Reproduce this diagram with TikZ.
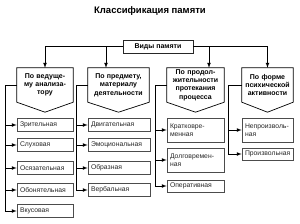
\documentclass[tikz,border=0pt]{standalone}
\usepackage{fontspec}
\setmainfont{Liberation Sans}
\usepackage{tikz}
\usetikzlibrary{arrows}

\begin{document}
\begin{tikzpicture}[x=1pt, y=-1pt, >=latex,
        vid/.style = {draw=black!85, line width=0.7pt, minimum width=70pt, minimum height=13pt, inner sep=1pt, font=\fontsize{7}{8}\selectfont\bfseries},
        hd/.style = {inner xsep=2pt, inner ysep=0pt, minimum height=34pt, align=center, font=\fontsize{7}{8.3}\selectfont\bfseries},
        lf/.style = {draw=black!70, line width=0.6pt, inner xsep=3pt, inner ysep=1pt, align=left, font=\fontsize{6.8}{8}\selectfont, text=black!85},
        ln/.style = {line width=0.7pt}]
    \useasboundingbox (0,0) rectangle (300,223);
    \def\ra{125} \def\rb{145} \def\rc{168} \def\rd{190} \def\re{211}

    \node[font=\fontsize{9.5}{11}\selectfont\bfseries] (titl) at (150,11) {Классификация памяти};
    \node[vid] (vp) at (158,46.5) {Виды памяти};

    % headers
    \node[hd, text width=52pt] (h1) at (45,85) {По ведуще-\\му анализа-\\тору};
    \node[hd, text width=57pt] (h2) at (118.5,85) {По предмету,\\материалу\\деятельности};
    \node[hd, text width=53pt] (h3) at (195.5,85) {По продол-\\жительности\\протекания\\процесса};
    \node[hd, text width=47pt] (h4) at (267.5,85) {По форме\\психической\\активности};
    \foreach \h in {h1,h2,h3,h4}
        \draw[ln] (\h.north west) -- (\h.north east) -- (\h.south east) -- ([yshift=-10pt]\h.south) -- (\h.south west) -- cycle;

    % leaves
    \node[lf, text width=50pt, minimum height=13pt] (l11) at (45,\ra) {Зрительная};
    \node[lf, text width=50pt, minimum height=13pt] (l12) at (45,\rb) {Слуховая};
    \node[lf, text width=50pt, minimum height=13pt] (l13) at (45,\rc) {Осязательная};
    \node[lf, text width=50pt, minimum height=13pt] (l14) at (45,\rd) {Обонятельная};
    \node[lf, text width=50pt, minimum height=13pt] (l15) at (45,\re) {Вкусовая};

    \node[lf, text width=56pt, minimum height=13pt] (l21) at (119,\ra) {Двигательная};
    \node[lf, text width=56pt, minimum height=13pt] (l22) at (119,\rb) {Эмоциональная};
    \node[lf, text width=56pt, minimum height=13pt] (l23) at (119,\rc) {Образная};
    \node[lf, text width=56pt, minimum height=13pt] (l24) at (119,\rd) {Вербальная};

    \node[lf, text width=51pt, minimum height=24pt] (l31) at (195.5,130) {Кратковре-\\менная};
    \node[lf, text width=51pt, minimum height=24pt] (l32) at (195.5,160) {Долговремен-\\ная};
    \node[lf, text width=51pt, minimum height=12pt] (l33) at (195.5,186) {Оперативная};

    \node[lf, text width=45pt, minimum height=24pt] (l41) at (267.5,130) {Непроизволь-\\ная};
    \node[lf, text width=45pt, minimum height=12pt] (l42) at (267.5,154) {Произвольная};

    % connectors
    \coordinate (a2) at ([xshift=-12.5pt]h2.north);
    \coordinate (a3) at ([xshift=13.5pt]h3.north);
    \draw[ln,->] (vp.west) -| (h1.north);
    \draw[ln,->] (a2 |- vp.west) -- (a2);
    \draw[ln,->] (a3 |- vp.east) -- (a3);
    \draw[ln,->] (vp.east) -| (h4.north);

    \coordinate (t1) at (5,85); \coordinate (t2) at (76,85);
    \coordinate (t3) at (155,85); \coordinate (t4) at (228,85);
    \draw[ln] (h1.west) -- (t1); \draw[ln] (h2.west) -- (t2);
    \draw[ln] (h3.west) -- (t3); \draw[ln] (h4.west) -- (t4);
    \foreach \n in {l11,l12,l13,l14,l15} \draw[ln,->] (t1) |- (\n.west);
    \foreach \n in {l21,l22,l23,l24} \draw[ln,->] (t2) |- (\n.west);
    \foreach \n in {l31,l32,l33} \draw[ln,->] (t3) |- (\n.west);
    \foreach \n in {l41,l42} \draw[ln,->] (t4) |- (\n.west);
\end{tikzpicture}
\end{document}
